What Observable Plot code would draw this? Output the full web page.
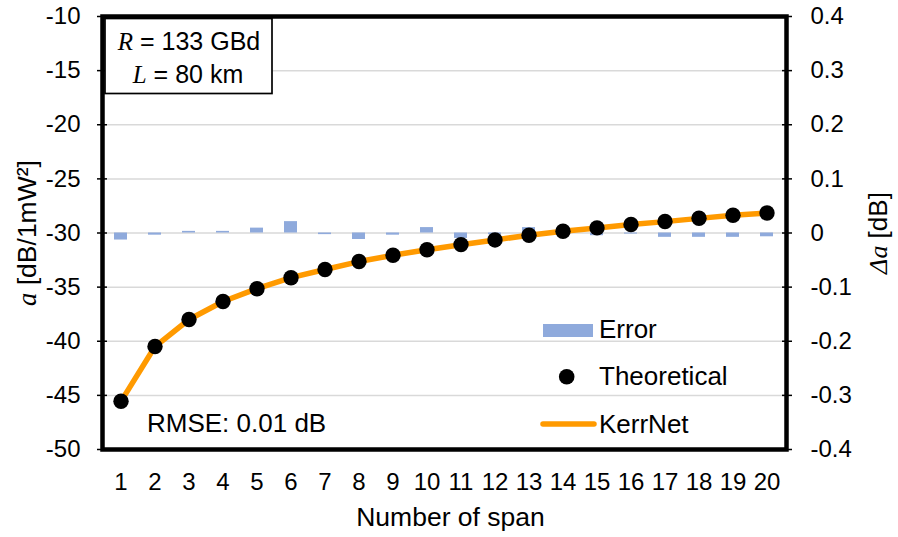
<!DOCTYPE html>
<html><head><meta charset="utf-8">
<script src="https://cdn.jsdelivr.net/npm/d3@7"></script>
<script src="https://cdn.jsdelivr.net/npm/@observablehq/plot@0.6"></script>
<style>body{margin:0;background:#fff}#chart{width:898px;height:537px}</style>
</head><body><div id="chart"></div>
<script>
// ---- data ----
const spans = [1,2,3,4,5,6,7,8,9,10,11,12,13,14,15,16,17,18,19,20];
const theoretical = [-45.54,-40.49,-37.99,-36.33,-35.15,-34.14,-33.37,-32.63,-32.06,-31.55,-31.07,-30.64,-30.21,-29.84,-29.53,-29.22,-28.94,-28.64,-28.36,-28.15];
const kerrnet     = [-45.55,-40.49,-37.99,-36.33,-35.14,-34.12,-33.37,-32.64,-32.06,-31.54,-31.08,-30.64,-30.20,-29.84,-29.53,-29.22,-28.95,-28.65,-28.37,-28.16];
const errorDb     = [-0.013,-0.004,0.003,0.003,0.009,0.021,-0.003,-0.012,-0.004,0.010,-0.010,-0.003,0.010,0.002,-0.005,-0.002,-0.008,-0.008,-0.008,-0.007];
const leftTicks = [-10,-15,-20,-25,-30,-35,-40,-45,-50];
const rightTicks = [0.4,0.3,0.2,0.1,0,-0.1,-0.2,-0.3,-0.4];
const legendLabels = ["Error","Theoretical","KerrNet"];
const xTitle = "Number of span";
const rmseText = "RMSE: 0.01 dB";

// right axis (dB) shares the left scale: 0 dB <-> -30, ±0.4 dB <-> -10 / -50
const toLeft = e => -30 + 50 * e;
const rows = spans.map((s, i) => ({span: s, theo: theoretical[i], kerr: kerrnet[i], err: errorDb[i]}));
const fmt = v => String(v).replace("\u2212", "-");

const SANS = "'Liberation Sans', Arial, sans-serif";
const SERIF = "'Liberation Serif', 'Times New Roman', serif";
const BLUE = "#8faadc", ORANGE = "#ff9a00";

const svg = Plot.plot({
  width: 898, height: 537,
  marginLeft: 102, marginRight: 112, marginTop: 16, marginBottom: 88,
  style: {fontFamily: SANS, fontSize: "24px", color: "#000", background: "#fff", overflow: "visible"},
  x: {type: "band", domain: spans, paddingInner: 0.61, paddingOuter: 0.305},
  y: {domain: [-50, -10]},
  marks: [
    Plot.gridY(leftTicks.slice(1, -1), {stroke: "#d9d9d9", strokeOpacity: 1, strokeWidth: 1.5}),
    Plot.barY(rows, {x: "span", y1: () => toLeft(0), y2: d => toLeft(d.err), fill: BLUE}),
    Plot.line(rows, {x: "span", y: "kerr", stroke: ORANGE, strokeWidth: 5.5}),
    Plot.dot(rows, {x: "span", y: "theo", r: 7.7, fill: "#000", stroke: "none"}),
    Plot.axisX({tickSize: 0, tickPadding: 23, label: null, tickFormat: fmt}),
    Plot.axisY({anchor: "left", ticks: leftTicks, tickSize: 10, dx: 5, tickFormat: () => "", label: null, strokeWidth: 1.5}),
    Plot.axisY({anchor: "left", ticks: leftTicks, tickSize: 0, tickPadding: 22, tickFormat: fmt, label: null}),
    Plot.axisY({anchor: "right", ticks: rightTicks.map(toLeft), tickSize: 10, dx: -5, tickFormat: () => "", label: null, strokeWidth: 1.5}),
    Plot.axisY({anchor: "right", ticks: rightTicks.map(toLeft), tickSize: 0, tickPadding: 24,
      tickFormat: v => fmt(+(((v + 30) / 50).toFixed(1))), label: null}),
    Plot.text([xTitle], {frameAnchor: "bottom", dx: 6, dy: 68, lineAnchor: "middle", fontSize: 26.5}),
    Plot.frame({stroke: "#000", strokeWidth: 4.5})
  ]
});
document.getElementById("chart").append(svg);

const s = d3.select(svg);
// annotation box
const box = s.append("g").attr("font-size", 25).attr("font-family", SANS).attr("text-anchor", "middle");
box.append("rect").attr("x", 105).attr("y", 18.5).attr("width", 167).attr("height", 75)
  .attr("fill", "#fff").attr("stroke", "#000").attr("stroke-width", 1.7);
const t1 = box.append("text").attr("x", 189).attr("y", 50);
t1.append("tspan").attr("font-family", SERIF).attr("font-style", "italic").text("R");
t1.append("tspan").text(" = 133 GBd");
const t2 = box.append("text").attr("x", 188).attr("y", 82.5);
t2.append("tspan").attr("font-family", SERIF).attr("font-style", "italic").text("L");
t2.append("tspan").text(" = 80 km");

// RMSE
s.append("text").attr("x", 147).attr("y", 431.5).attr("text-anchor", "start")
  .attr("font-size", 26).attr("font-family", SANS).text(rmseText);

// legend
const lg = s.append("g").attr("font-size", 26).attr("font-family", SANS).attr("text-anchor", "start");
lg.append("rect").attr("x", 543).attr("y", 324).attr("width", 50).attr("height", 13).attr("fill", BLUE);
lg.append("circle").attr("cx", 566.7).attr("cy", 376.7).attr("r", 7.8).attr("fill", "#000");
lg.append("line").attr("x1", 543).attr("x2", 594).attr("y1", 424).attr("y2", 424)
  .attr("stroke", ORANGE).attr("stroke-width", 5.5).attr("stroke-linecap", "round");
[338, 385, 433].forEach((yb, i) => lg.append("text").attr("x", 599).attr("y", yb).text(legendLabels[i]));

// axis titles
const lt = s.append("text").attr("transform", "translate(36,233) rotate(-90)").attr("text-anchor", "middle")
  .attr("font-size", 26.5).attr("font-family", SANS);
lt.append("tspan").attr("font-family", SERIF).attr("font-style", "italic").text("a");
lt.append("tspan").text(" [dB/1mW²]");
const rt = s.append("text").attr("transform", "translate(887,233) rotate(-90)").attr("text-anchor", "middle")
  .attr("font-size", 26).attr("font-family", SANS);
rt.append("tspan").attr("font-family", SERIF).attr("font-style", "italic").text("Δa");
rt.append("tspan").text(" [dB]");
</script>
</body></html>
